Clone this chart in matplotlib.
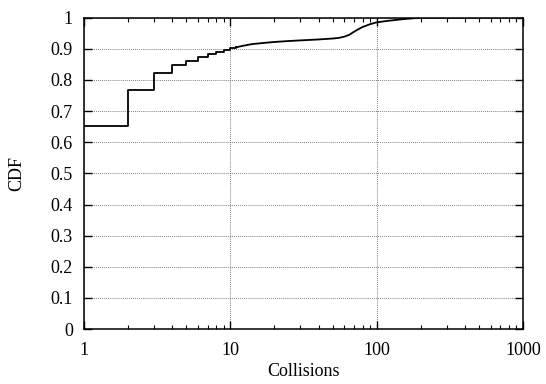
"""CDF of collisions, gnuplot-like look (log x axis, step curve)."""
import matplotlib
matplotlib.use('Agg')
import matplotlib.pyplot as plt
from matplotlib.ticker import LogLocator, FixedLocator, NullFormatter

plt.rcParams['font.family'] = ['Liberation Serif', 'DejaVu Serif']
plt.rcParams['font.size'] = 13

collisions = [1, 2, 3, 4, 5, 6, 7, 8, 9, 10, 11, 12, 14, 17, 20, 25, 30, 40, 50, 55,
              60, 65, 70, 75, 80, 90, 100, 120, 150, 200, 1000]
cdf = [0.652, 0.768, 0.821, 0.847, 0.862, 0.873, 0.882, 0.890, 0.897, 0.902, 0.905,
       0.909, 0.915, 0.919, 0.922, 0.925, 0.927, 0.930, 0.933, 0.935, 0.939, 0.945,
       0.955, 0.963, 0.970, 0.979, 0.985, 0.990, 0.995, 1.0, 1.0]
yticks = [0, 0.1, 0.2, 0.3, 0.4, 0.5, 0.6, 0.7, 0.8, 0.9, 1]
ytick_labels = ['0', '0.1', '0.2', '0.3', '0.4', '0.5', '0.6', '0.7', '0.8', '0.9', '1']
xticks = [1, 10, 100, 1000]
xtick_labels = ['1', '10', '100', '1000']

fig = plt.figure(figsize=(5.46, 3.84), dpi=100)
ax = fig.add_subplot(111)
fig.subplots_adjust(left=0.154, right=0.958, top=0.954, bottom=0.143)

# integer part is a staircase, the tail is dense enough to look smooth
ax.step(collisions[:11], cdf[:11], where='post', color='black', lw=1.3)
ax.plot(collisions[10:], cdf[10:], color='black', lw=1.3)

ax.set_xscale('log')
ax.set_xlim(1, 1000)
ax.set_ylim(0, 1)
ax.xaxis.set_major_locator(FixedLocator(xticks))
ax.set_xticklabels(xtick_labels)
ax.xaxis.set_minor_locator(LogLocator(base=10, subs=range(2, 10)))
ax.xaxis.set_minor_formatter(NullFormatter())
ax.set_yticks(yticks)
ax.set_yticklabels(ytick_labels)

ax.tick_params(which='both', direction='in', top=True, right=True, colors='black')
ax.tick_params(which='major', length=6, width=1.0)
ax.tick_params(which='minor', length=3, width=0.8)
ax.tick_params(axis='y', pad=8)
ax.tick_params(axis='x', pad=9)
for s in ax.spines.values():
    s.set_linewidth(1.1)

ax.grid(True, which='major', linestyle=(0, (0.8, 1.2)), color='#666666', linewidth=0.7)

ax.set_xlabel('Collisions', labelpad=3)
ax.set_ylabel('CDF', labelpad=18)

fig.savefig('out.png', dpi=100)
